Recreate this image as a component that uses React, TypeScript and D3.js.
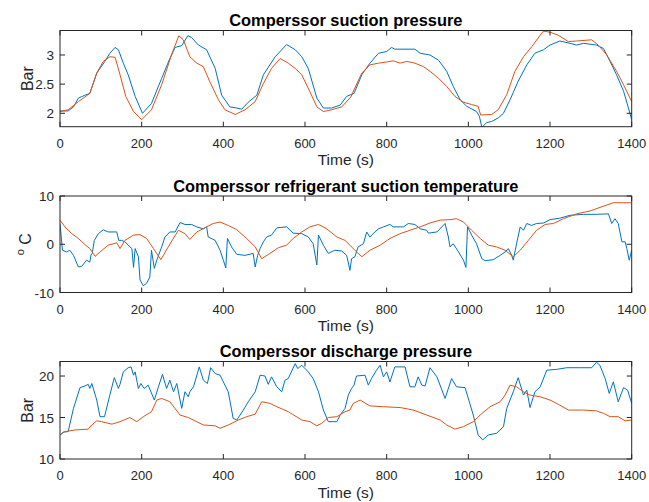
import React from "react";
import * as d3 from "d3";

type P = [number, number];

// ---- Data: Compressor suction pressure (Bar) ----
const suctionPressureBlue: P[] = [
  [0, 2.04], [20, 2.04], [33, 2.11], [45, 2.26], [61, 2.31], [73, 2.34], [90, 2.69], [110, 2.89], [122, 3.03],
  [135, 3.13], [143, 3.09], [155, 2.86], [167, 2.66], [184, 2.29], [202, 2.0], [224, 2.17], [249, 2.6], [269, 2.94],
  [282, 3.13], [298, 3.16], [313, 3.33], [322, 3.3], [339, 3.17], [359, 3.09], [380, 2.77], [396, 2.31], [416, 2.11],
  [433, 2.09], [445, 2.07], [461, 2.19], [482, 2.31], [498, 2.66], [527, 2.97], [555, 3.18], [576, 3.09], [592, 2.97],
  [608, 2.77], [629, 2.26], [645, 2.09], [665, 2.09], [686, 2.14], [702, 2.29], [712, 2.32], [720, 2.34], [739, 2.66],
  [759, 2.86], [780, 3.03], [800, 3.06], [812, 3.13], [820, 3.1], [869, 3.1], [882, 3.03], [906, 3.0], [927, 2.91],
  [947, 2.72], [963, 2.46], [980, 2.23], [996, 2.12], [1020, 2.03], [1027, 1.95], [1033, 1.76], [1045, 1.84],
  [1057, 1.86], [1073, 1.92], [1086, 2.0], [1102, 2.23], [1122, 2.55], [1143, 2.83], [1163, 3.03], [1184, 3.09],
  [1200, 3.17], [1224, 3.24], [1249, 3.2], [1265, 3.17], [1282, 3.2], [1314, 3.17], [1331, 3.11], [1347, 2.89],
  [1363, 2.66], [1380, 2.38], [1392, 2.09], [1400, 1.89],
];
const suctionPressureOrange: P[] = [
  [0, 2.03], [20, 2.06], [45, 2.2], [73, 2.34], [90, 2.69], [106, 2.89], [122, 2.97], [135, 2.96], [147, 2.66],
  [161, 2.29], [180, 2.03], [200, 1.89], [224, 2.06], [249, 2.49], [273, 3.0], [291, 3.33], [302, 3.26], [318, 2.97],
  [335, 2.86], [351, 2.8], [367, 2.54], [388, 2.23], [404, 2.06], [429, 1.98], [453, 2.06], [478, 2.2], [498, 2.51],
  [518, 2.77], [539, 2.94], [559, 2.86], [576, 2.77], [592, 2.66], [612, 2.37], [629, 2.11], [645, 2.03], [665, 2.06],
  [690, 2.11], [712, 2.28], [739, 2.69], [759, 2.83], [780, 2.86], [800, 2.88], [816, 2.9], [833, 2.86], [849, 2.89],
  [869, 2.86], [890, 2.8], [906, 2.72], [927, 2.6], [947, 2.46], [967, 2.29], [988, 2.19], [1008, 2.15], [1024, 2.12],
  [1030, 1.97], [1057, 1.98], [1073, 2.06], [1094, 2.32], [1114, 2.72], [1135, 2.97], [1155, 3.14], [1176, 3.34],
  [1184, 3.41], [1200, 3.39], [1220, 3.34], [1245, 3.23], [1265, 3.24], [1302, 3.26], [1318, 3.17], [1339, 3.0],
  [1363, 2.72], [1380, 2.49], [1400, 2.2],
];

// ---- Data: Compressor refrigerant suction temperature (°C) ----
const suctionTempBlue: P[] = [
  [0, 4.3], [6, -1.24], [16, -1.6], [24, -1.24], [33, -2.3], [45, -4.7], [53, -4.6], [65, -3.3], [73, -3.7],
  [76, -2.2], [79, -1.9], [84, 0.8], [94, 2.2], [106, 3.0], [118, 2.55], [139, 2.55], [144, 0.8], [151, 0.8],
  [159, 0.5], [167, -0.2], [176, -0.9], [180, -4.8], [184, -0.9], [192, -2.6], [196, -7.4], [204, -8.6], [212, -8.1],
  [220, -6.8], [224, -1.24], [231, -5.0], [237, -3.3], [249, -0.55], [257, 1.5], [269, 2.55], [282, 2.55], [294, 4.5],
  [306, 4.1], [322, 4.1], [335, 3.6], [351, 3.2], [359, 3.6], [363, 1.5], [380, 0.8], [392, -1.24], [400, -3.3],
  [406, -4.9], [410, 1.2], [420, -0.55], [433, -2.1], [453, -2.3], [473, -1.9], [478, -4.7], [484, -2.3], [490, -0.9],
  [498, 0.5], [506, 1.5], [518, 1.9], [531, 3.4], [555, 3.6], [571, 2.3], [592, 2.2], [608, 1.5], [620, 0.1],
  [629, -4.3], [633, 1.9], [645, -0.2], [657, -1.9], [673, -1.24], [690, -1.4], [702, -2.3], [710, -5.4], [714, -3.0],
  [722, -2.6], [730, -0.55], [743, 0.1], [751, 2.55], [759, 1.5], [771, 2.55], [780, 3.2], [792, 3.6], [808, 4.1],
  [816, 3.6], [841, 3.6], [853, 4.3], [869, 4.1], [882, 3.2], [898, 2.9], [902, 2.3], [923, 2.55], [943, 4.3],
  [951, 1.5], [955, -0.55], [963, 0.1], [976, -1.6], [988, -3.3], [994, -4.8], [998, 3.6], [1008, 1.9], [1020, 0.1],
  [1033, -3.0], [1041, -3.4], [1061, -3.2], [1078, -2.3], [1090, -1.6], [1098, -0.9], [1106, -2.3], [1110, -3.3],
  [1118, 0.1], [1127, 3.6], [1135, 2.9], [1143, 4.3], [1155, 3.9], [1167, 4.3], [1184, 4.4], [1200, 5.1],
  [1224, 5.4], [1249, 6.0], [1282, 6.2], [1314, 6.2], [1343, 6.3], [1351, 4.3], [1359, 5.3], [1367, 4.3],
  [1376, 0.5], [1384, 0.5], [1388, -0.9], [1394, -3.3], [1400, -1.24],
];
const suctionTempOrange: P[] = [
  [0, 5.0], [12, 3.6], [29, 2.2], [45, 1.2], [61, -0.07], [73, -0.9], [86, -2.5], [98, -1.6], [118, -0.2],
  [139, 0.3], [147, -0.9], [159, 0.8], [180, 1.9], [196, 2.0], [212, 1.2], [229, -0.9], [247, -3.2], [265, -0.55],
  [290, 2.9], [306, 2.2], [318, 1.0], [335, 2.55], [359, 3.6], [375, 4.3], [392, 4.6], [412, 3.9], [433, 3.0],
  [457, 1.2], [478, -0.55], [494, -3.0], [514, -1.9], [535, -0.7], [555, -0.2], [571, 1.2], [592, 2.55], [612, 3.6],
  [633, 4.1], [653, 3.2], [678, 1.5], [698, 0.8], [710, -0.2], [722, -1.24], [739, -2.6], [759, -1.24], [784, -0.2],
  [808, 1.2], [833, 2.2], [857, 2.9], [882, 3.6], [906, 4.4], [931, 5.0], [955, 5.1], [971, 5.3], [988, 4.6],
  [1008, 2.9], [1029, 1.2], [1049, -0.2], [1069, -0.55], [1090, -1.24], [1110, -2.6], [1127, -1.24], [1147, 0.8],
  [1167, 2.9], [1188, 4.1], [1208, 4.3], [1233, 5.3], [1265, 6.3], [1298, 6.9], [1331, 7.9], [1355, 8.6],
  [1380, 8.6], [1400, 8.6],
];

// ---- Data: Compressor discharge pressure (Bar) ----
const dischargePressureBlue: P[] = [
  [0, 12.9], [8, 13.24], [20, 13.3], [33, 16.1], [49, 18.6], [61, 18.8], [69, 19.0], [73, 18.5], [78, 19.1],
  [90, 17.1], [98, 15.1], [109, 15.1], [122, 17.7], [133, 19.8], [143, 18.5], [147, 19.0], [155, 20.5], [167, 21.0],
  [174, 21.1], [180, 20.1], [184, 20.5], [192, 18.5], [198, 19.1], [206, 18.5], [216, 18.9], [231, 17.1], [241, 18.7],
  [251, 20.2], [255, 19.5], [261, 18.5], [269, 19.5], [278, 18.1], [286, 19.1], [298, 16.1], [306, 18.1], [314, 17.5],
  [318, 18.1], [327, 18.7], [341, 21.1], [351, 19.5], [361, 19.1], [369, 21.0], [380, 20.3], [392, 20.1], [400, 19.3],
  [412, 18.1], [424, 14.9], [433, 14.7], [449, 15.9], [461, 16.9], [478, 18.1], [490, 20.1], [502, 20.0], [510, 19.0],
  [518, 19.9], [531, 18.7], [543, 18.1], [551, 19.5], [559, 19.7], [576, 21.5], [582, 20.9], [592, 21.3], [608, 20.5],
  [620, 19.7], [633, 18.1], [645, 15.9], [657, 14.5], [678, 14.5], [686, 15.3], [698, 16.1], [706, 17.7], [714, 18.5],
  [720, 18.9], [726, 20.0], [747, 20.1], [755, 18.9], [763, 19.7], [775, 20.7], [784, 21.3], [792, 19.9], [800, 20.5],
  [808, 19.3], [820, 21.1], [845, 21.1], [857, 18.7], [869, 18.7], [877, 19.9], [886, 18.9], [894, 18.8], [906, 21.0],
  [923, 19.9], [943, 17.3], [959, 19.7], [971, 18.7], [992, 18.6], [1012, 15.3], [1024, 12.9], [1035, 12.3],
  [1049, 12.9], [1069, 13.1], [1086, 13.9], [1094, 16.1], [1110, 18.1], [1122, 19.8], [1135, 17.7], [1143, 18.3],
  [1151, 16.2], [1163, 18.1], [1176, 18.7], [1192, 20.7], [1216, 20.8], [1241, 21.0], [1273, 21.0], [1302, 21.0],
  [1314, 21.65], [1322, 21.3], [1335, 19.7], [1345, 17.9], [1355, 19.3], [1367, 16.9], [1380, 18.6], [1390, 18.3],
  [1400, 16.7],
];
const dischargePressureOrange: P[] = [
  [0, 12.9], [12, 13.3], [37, 13.5], [69, 13.6], [78, 14.1], [90, 14.6], [102, 14.5], [127, 14.2], [147, 14.5],
  [171, 15.0], [188, 14.5], [204, 15.1], [224, 15.7], [237, 17.1], [249, 17.3], [269, 16.9], [294, 15.3], [314, 15.0],
  [351, 14.1], [380, 14.0], [392, 13.7], [412, 14.1], [437, 14.7], [457, 15.1], [478, 15.4], [494, 16.9], [514, 16.7],
  [531, 16.3], [559, 15.7], [592, 14.7], [612, 14.5], [629, 14.0], [641, 14.3], [657, 15.0], [678, 15.1], [698, 15.7],
  [710, 15.9], [718, 16.7], [735, 17.1], [759, 16.4], [792, 16.3], [833, 16.2], [865, 15.9], [898, 15.3], [931, 14.7],
  [947, 14.1], [967, 13.6], [988, 13.9], [1012, 14.5], [1029, 15.3], [1053, 16.3], [1078, 16.9], [1090, 17.7],
  [1102, 18.9], [1118, 18.7], [1135, 18.1], [1151, 17.7], [1176, 17.5], [1200, 17.1], [1220, 16.6], [1245, 15.9],
  [1282, 15.9], [1314, 15.8], [1331, 15.5], [1347, 15.1], [1367, 15.1], [1384, 14.6], [1400, 14.7],
];

const xTicks = [0, 200, 400, 600, 800, 1000, 1200, 1400];

const titles = [
  "Comperssor suction pressure",
  "Comperssor refrigerant suction temperature",
  "Comperssor discharge pressure",
];

const BLUE = "#0072BD";
const ORANGE = "#D95319";
const AX = "#262626";
const FONT = "'Liberation Sans', Arial, Helvetica, sans-serif";

interface PanelSpec {
  title: string;
  top: number;
  bottom: number;
  domain: [number, number];
  ticks: number[];
  ylabel: "bar" | "degC";
  blue: P[];
  orange: P[];
}

const panels: PanelSpec[] = [
  { title: titles[0], top: 30.5, bottom: 126.7, domain: [1.77, 3.42], ticks: [2, 2.5, 3], ylabel: "bar", blue: suctionPressureBlue, orange: suctionPressureOrange },
  { title: titles[1], top: 196, bottom: 292.5, domain: [-10, 10], ticks: [-10, 0, 10], ylabel: "degC", blue: suctionTempBlue, orange: suctionTempOrange },
  { title: titles[2], top: 361.5, bottom: 459, domain: [10, 21.75], ticks: [10, 15, 20], ylabel: "bar", blue: dischargePressureBlue, orange: dischargePressureOrange },
];

const LEFT = 60;
const RIGHT = 631.7;

function Panel({ p }: { p: PanelSpec }) {
  const x = d3.scaleLinear().domain([0, 1400]).range([LEFT, RIGHT]);
  const y = d3.scaleLinear().domain(p.domain).range([p.bottom, p.top]);
  const line = d3.line<P>().x((d) => x(d[0])).y((d) => y(d[1]));
  const tl = 5;
  const midY = (p.top + p.bottom) / 2;
  return (
    <g>
      <defs>
        <clipPath id={"clip" + p.top}>
          <rect x={LEFT} y={p.top} width={RIGHT - LEFT} height={p.bottom - p.top} />
        </clipPath>
      </defs>
      <g clipPath={`url(#clip${p.top})`}>
        <path d={line(p.blue) || ""} fill="none" stroke={BLUE} strokeWidth={1} />
        <path d={line(p.orange) || ""} fill="none" stroke={ORANGE} strokeWidth={1} />
      </g>
      <rect x={LEFT} y={p.top} width={RIGHT - LEFT} height={p.bottom - p.top} fill="none" stroke={AX} strokeWidth={1} />
      {xTicks.map((t) => (
        <g key={"x" + t}>
          <line x1={x(t)} x2={x(t)} y1={p.bottom} y2={p.bottom - tl} stroke={AX} />
          <line x1={x(t)} x2={x(t)} y1={p.top} y2={p.top + tl} stroke={AX} />
          <text x={x(t)} y={p.bottom + 21} textAnchor="middle" fontSize={13} fill={AX} fontFamily={FONT}>
            {t}
          </text>
        </g>
      ))}
      {p.ticks.map((t) => (
        <g key={"y" + t}>
          <line x1={LEFT} x2={LEFT + tl} y1={y(t)} y2={y(t)} stroke={AX} />
          <line x1={RIGHT} x2={RIGHT - tl} y1={y(t)} y2={y(t)} stroke={AX} />
          <text x={LEFT - 6} y={y(t) + 5} textAnchor="end" fontSize={13.5} fill={AX} fontFamily={FONT}>
            {t}
          </text>
        </g>
      ))}
      <text x={(LEFT + RIGHT) / 2} y={p.top - 4.5} textAnchor="middle" fontSize={16.4} fontWeight="bold" fill="#000" fontFamily={FONT}>
        {p.title}
      </text>
      <text x={(LEFT + RIGHT) / 2} y={p.bottom + 38.5} textAnchor="middle" fontSize={15.5} fill={AX} fontFamily={FONT}>
        Time (s)
      </text>
      {p.ylabel === "bar" ? (
        <text transform={`translate(33, ${midY}) rotate(-90)`} textAnchor="middle" fontSize={16} fill={AX} fontFamily={FONT}>
          Bar
        </text>
      ) : (
        <text transform={`translate(31, ${midY}) rotate(-90)`} textAnchor="middle" fontSize={16} fill={AX} fontFamily={FONT}>
          <tspan fontSize={11} dy={-7}>o</tspan>
          <tspan dy={7}> C</tspan>
        </text>
      )}
    </g>
  );
}

export default function App() {
  return (
    <svg width={649} height={502} style={{ display: "block", position: "absolute", left: 0, top: 0, background: "#fff" }}>
      <rect width={649} height={502} fill="#fff" />
      {panels.map((p) => (
        <Panel key={p.title} p={p} />
      ))}
    </svg>
  );
}
